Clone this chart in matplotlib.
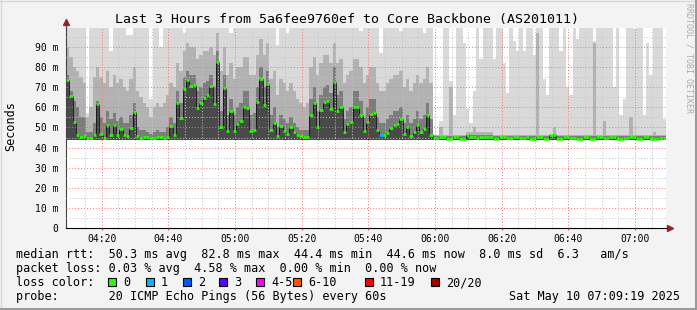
import numpy as np
import matplotlib
matplotlib.use('Agg')
import matplotlib.pyplot as plt
from matplotlib.patches import Rectangle

# ---- data: one value per minute, 04:09:19 -> 07:09:19 ----
median_rtt = [
    73.6, 65.8, 52.9, 46.3, 45.1, 45.8, 44.6, 44.6, 46.3, 61.7,
    46.9, 44.6, 51.2, 46.3, 51.2, 46.3, 49.3, 46.3, 45.8, 49.6,
    57.5, 45.9, 44.6, 45.3, 45.3, 44.9, 44.6, 45.3, 45.3, 44.6,
    45.1, 50.9, 46.3, 62.2, 54.7, 69.0, 73.6, 70.6, 71.0, 59.9,
    62.4, 64.5, 66.0, 70.5, 61.5, 82.8, 50.2, 69.8, 48.3, 58.2,
    48.3, 51.7, 53.0, 60.0, 59.7, 48.1, 48.8, 62.7, 74.3, 61.0,
    71.8, 48.8, 52.0, 45.6, 50.9, 48.3, 46.9, 50.2, 47.9, 46.3,
    45.8, 45.4, 45.4, 56.2, 62.0, 50.2, 58.7, 62.7, 63.3, 59.0,
    72.5, 58.4, 60.0, 47.8, 51.7, 52.7, 60.2, 60.2, 56.0, 48.3,
    52.6, 56.5, 57.2, 48.8, 46.1, 46.1, 47.4, 49.7, 51.4, 51.7,
    54.0, 46.6, 50.2, 45.9, 47.9, 51.2, 47.9, 49.3, 56.2, 46.3,
    44.6, 44.6, 45.4, 45.4, 44.4, 44.4, 45.3, 45.3, 44.4, 44.4,
    46.3, 45.3, 45.3, 44.6, 45.1, 45.1, 45.1, 45.1, 44.4, 44.4,
    45.3, 45.3, 44.6, 44.6, 45.3, 45.3, 44.6, 44.6, 45.3, 44.4,
    44.4, 45.3, 45.3, 44.4, 44.4, 46.1, 46.1, 44.4, 44.4, 45.3,
    45.3, 44.6, 44.6, 44.4, 44.4, 45.1, 45.1, 44.4, 44.4, 45.3,
    45.3, 44.6, 44.6, 45.1, 45.1, 44.4, 44.4, 44.9, 44.9, 45.3,
    45.3, 44.4, 44.4, 45.3, 45.3, 44.4, 44.4, 44.4, 44.6, 44.6,
]

# smoke: highest ping, ~90th and ~70th percentile per minute
smoke_top = [
    100, 100, 100, 100, 100, 100, 57, 100, 100, 100,
    100, 100, 100, 88, 100, 100, 100, 100, 96, 96,
    100, 100, 100, 100, 100, 64, 100, 100, 90, 100,
    100, 100, 100, 100, 100, 97, 100, 100, 100, 100,
    100, 100, 100, 100, 100, 100, 100, 100, 100, 97,
    100, 100, 100, 100, 100, 100, 100, 100, 100, 100,
    100, 100, 100, 91, 100, 100, 97, 100, 100, 100,
    100, 100, 100, 100, 100, 100, 100, 100, 100, 100,
    100, 100, 100, 100, 100, 100, 100, 100, 98, 100,
    100, 100, 100, 100, 87, 100, 100, 100, 100, 100,
    98, 100, 100, 100, 100, 100, 100, 97, 100, 100,
    46, 46, 53, 100, 100, 73, 56, 100, 100, 92,
    59, 52, 68, 100, 84, 100, 100, 100, 84, 100,
    100, 82, 67, 100, 93, 88, 100, 88, 100, 100,
    86, 100, 100, 74, 66, 100, 100, 100, 88, 100,
    70, 66, 100, 94, 100, 100, 100, 100, 93, 100,
    100, 100, 100, 100, 70, 100, 56, 64, 100, 100,
    99, 100, 100, 56, 92, 76, 100, 100, 100, 54,
]

smoke_mid = [
    90, 85, 80, 78, 75, 72, 55, 60, 75, 80,
    75, 72, 78, 70, 76, 72, 74, 70, 68, 74,
    80, 68, 65, 62, 60, 55, 60, 62, 60, 62,
    66, 72, 70, 82, 78, 88, 92, 90, 90, 84,
    86, 88, 88, 90, 86, 97, 78, 90, 76, 82,
    74, 80, 80, 85, 85, 76, 76, 86, 94, 86,
    92, 74, 78, 66, 74, 72, 68, 72, 68, 64,
    62, 60, 62, 80, 85, 76, 82, 86, 86, 82,
    92, 82, 84, 72, 76, 78, 84, 84, 80, 72,
    76, 80, 80, 72, 68, 68, 72, 74, 76, 76,
    78, 70, 74, 68, 72, 76, 72, 74, 80, 72,
    46.5, 46.5, 50, 46.5, 46.5, 70, 46.5, 46.5, 46.5, 46.5,
    48, 48, 50, 48, 48, 48, 48, 48, 46.5, 46.5,
    46.5, 46.5, 46.5, 46.5, 46.5, 46.5, 46.5, 46.5, 46.5, 46.5,
    46.5, 97, 46.5, 46.5, 46.5, 46.5, 50, 46.5, 46.5, 46.5,
    46.5, 46.5, 46.5, 46.5, 46.5, 46.5, 46.5, 46.5, 92, 46.5,
    46.5, 53, 46.5, 46.5, 46.5, 46.5, 46.5, 46.5, 46.5, 55,
    46.5, 46.5, 46.5, 46.5, 46.5, 46.5, 48, 46.5, 46.5, 46.5,
]

smoke_dark = [
    76, 68, 63, 60, 55, 55, 48, 48, 52, 63,
    55, 52, 58, 54, 57, 53, 55, 52, 52, 56,
    62, 50, 49, 49, 48, 47, 48, 49, 48, 48,
    50, 55, 52, 68, 62, 75, 78, 76, 76, 68,
    70, 72, 73, 76, 70, 88, 58, 76, 56, 64,
    56, 60, 62, 68, 68, 56, 57, 70, 80, 70,
    78, 56, 60, 50, 56, 54, 52, 55, 52, 50,
    49, 49, 49, 64, 70, 58, 66, 70, 71, 67,
    80, 66, 68, 54, 58, 60, 68, 68, 63, 55,
    60, 64, 64, 55, 52, 52, 54, 56, 58, 58,
    60, 52, 56, 52, 54, 58, 54, 56, 62, 54,
    45.6, 45.6, 45.6, 45.6, 45.6, 45.6, 45.6, 45.6, 45.6, 45.6,
    46.5, 46.5, 46.5, 46.5, 46.5, 46.5, 46.5, 46.5, 45.6, 45.6,
    45.6, 45.6, 45.6, 45.6, 45.6, 45.6, 45.6, 45.6, 45.6, 45.6,
    45.6, 45.6, 45.6, 45.6, 45.6, 45.6, 47, 45.6, 45.6, 45.6,
    45.6, 45.6, 45.6, 45.6, 45.6, 45.6, 45.6, 45.6, 45.6, 45.6,
    45.6, 45.6, 45.6, 45.6, 45.6, 45.6, 45.6, 45.6, 45.6, 45.6,
    45.6, 45.6, 45.6, 45.6, 45.6, 45.6, 45.6, 45.6, 45.6, 45.6,
]
smoke_floor = 44.0

loss_minutes = [94]      # minute index with packet loss
loss_counts = [1]

start_min = 9 + 19 / 60  # 04:09:19, minutes after 04:00
x_ticks = [20, 40, 60, 80, 100, 120, 140, 160, 180]
x_labels = ['04:20', '04:40', '05:00', '05:20', '05:40', '06:00', '06:20', '06:40', '07:00']
y_ticks = [0, 10, 20, 30, 40, 50, 60, 70, 80, 90]
y_labels = ['0', '10 m', '20 m', '30 m', '40 m', '50 m', '60 m', '70 m', '80 m', '90 m']

loss_labels = ['0', '1', '2', '3', '4-5', '6-10', '11-19', '20/20']
loss_colors = ['#26ff00', '#00b8ff', '#0059ff', '#5e00ff', '#ff00ff', '#ff5500', '#ff0000', '#a00000']

title = 'Last 3 Hours from 5a6fee9760ef to Core Backbone (AS201011)'
stat_rtt = ['50.3 ms avg', '82.8 ms max', '44.4 ms min', '44.6 ms now', '8.0 ms sd', '6.3   am/s']
stat_loss = ['0.03 % avg', '4.58 % max', '0.00 % min', '0.00 % now']
probe = '20 ICMP Echo Pings (56 Bytes) every 60s'
stamp = 'Sat May 10 07:09:19 2025'

# ---- figure ----
W, H = 697, 310
mono = 'DejaVu Sans Mono'
plt.rcParams['font.family'] = mono

fig = plt.figure(figsize=(W / 100, H / 100), dpi=100, facecolor='#f3f3f3')
ax = fig.add_axes([66 / W, 1 - 228 / H, 600 / W, 200 / H])
ax.set_facecolor('white')

n = len(median_rtt)
edges = start_min + np.arange(n + 1)

# smoke layers, lightest (widest) first
ax.stairs(smoke_top, edges, baseline=smoke_floor, fill=True, color='#d9d9d9', lw=0)
ax.stairs(smoke_mid, edges, baseline=smoke_floor, fill=True, color='#b2b2b2', lw=0)
ax.stairs(smoke_dark, edges, baseline=smoke_floor, fill=True, color='#7c7c7c', lw=0)
ax.stairs(median_rtt, edges, baseline=smoke_floor, fill=True, color='#4a4a4a', lw=0)

# median line + loss coloured marks
ax.stairs(median_rtt, edges, baseline=None, color='#111111', lw=0.6, zorder=3)
mark_colors = [loss_colors[0]] * n
for m, c in zip(loss_minutes, loss_counts):
    mark_colors[m] = loss_colors[c]
ax.hlines(median_rtt, edges[:-1], edges[1:], colors=mark_colors, lw=1.9, zorder=4)

ax.set_xlim(edges[0], edges[-1])
ax.set_ylim(0, 99.5)

ax.set_xticks(x_ticks)
ax.set_xticklabels(x_labels)
ax.set_xticks(np.arange(15, 190, 5), minor=True)
ax.set_yticks(y_ticks)
ax.set_yticklabels(y_labels)
ax.set_yticks(np.arange(5, 100, 10), minor=True)

ax.set_axisbelow(False)
ax.grid(which='minor', color='#c4c4c4', linestyle=(0, (1, 2)), lw=0.7)
ax.grid(which='major', color='#ff7070', linestyle=(0, (1, 2)), lw=0.7)

for s in ['top', 'right']:
    ax.spines[s].set_visible(False)
ax.spines['left'].set_color('#404040')
ax.spines['left'].set_linewidth(0.8)
ax.spines['bottom'].set_color('black')
ax.spines['bottom'].set_linewidth(0.8)

ax.tick_params(axis='x', which='major', length=1.5, color='#dd4444', pad=3, labelsize=7)
ax.tick_params(axis='y', which='major', length=0, pad=5.5, labelsize=7)
ax.tick_params(which='minor', length=0)

# axis arrows
arrow_c = '#992222'
ax.plot([0, 0], [1, 1.025], transform=ax.transAxes, color='#404040', lw=0.8, clip_on=False)
ax.plot([0], [1.028], marker='^', ms=5, color=arrow_c, transform=ax.transAxes, clip_on=False)
ax.plot([1, 1.006], [0, 0], transform=ax.transAxes, color='black', lw=0.8, clip_on=False)
ax.plot([1.007], [0], marker='>', ms=5, color=arrow_c, transform=ax.transAxes, clip_on=False)


def ftext(x, y, s, **kw):
    fig.text(x / W, 1 - y / H, s, **kw)


ftext(347, 19, title, ha='center', va='center', fontsize=9.5)
ftext(11, 126, 'Seconds', rotation=90, ha='center', va='center', fontsize=8.5)
ftext(689, 58, 'RRDTOOL / TOBI OETIKER', rotation=270, ha='center', va='center',
      fontsize=6, color='#aaaaaa')

leg = dict(fontsize=8.5, ha='left', va='baseline')
ftext(16, 258, 'median rtt:  ' + '  '.join(stat_rtt), **leg)
ftext(16, 272, 'packet loss: ' + '  '.join(stat_loss), **leg)
ftext(16, 286, 'loss color:', **leg)
ftext(16, 300, 'probe:       ' + probe, **leg)
ftext(680, 300, stamp, fontsize=8.5, ha='right', va='baseline')

box_x = [108, 146, 183, 219, 256, 293, 365, 431]
for bx, lab, col in zip(box_x, loss_labels, loss_colors):
    fig.patches.append(Rectangle((bx / W, 1 - 286 / H), 8 / W, 8 / H, transform=fig.transFigure,
                                 figure=fig, facecolor=col, edgecolor='black', lw=0.8))
    ftext(bx + 15, 286, lab, **leg)

# rrdtool style frame
fig.add_artist(plt.Line2D([0, 1], [1 - 0.5 / H, 1 - 0.5 / H], transform=fig.transFigure, color='#d8d8d8', lw=1))
fig.add_artist(plt.Line2D([0.5 / W, 0.5 / W], [0, 1], transform=fig.transFigure, color='#d8d8d8', lw=1))
fig.add_artist(plt.Line2D([0, 1], [1 / H, 1 / H], transform=fig.transFigure, color='#9a9a9a', lw=1.5))
fig.add_artist(plt.Line2D([1 - 1 / W, 1 - 1 / W], [0, 1], transform=fig.transFigure, color='#9a9a9a', lw=1.5))

fig.savefig('out.png', dpi=100, facecolor=fig.get_facecolor())
